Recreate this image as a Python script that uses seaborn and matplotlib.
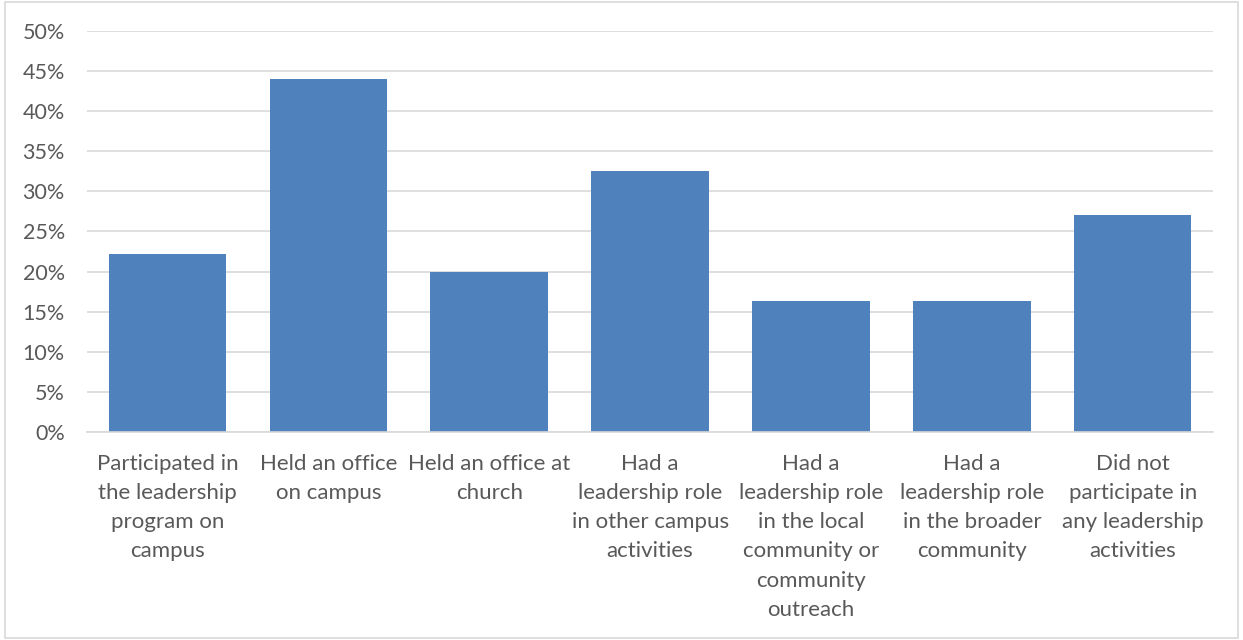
import matplotlib
matplotlib.use("Agg")
import matplotlib.pyplot as plt
import seaborn as sns
import pandas as pd
from matplotlib.patches import Rectangle
from matplotlib.ticker import FuncFormatter, MultipleLocator

categories = [
    "Participated in\nthe leadership\nprogram on\ncampus",
    "Held an office\non campus",
    "Held an office at\nchurch",
    "Had a\nleadership role\nin other campus\nactivities",
    "Had a\nleadership role\nin the local\ncommunity or\ncommunity\noutreach",
    "Had a\nleadership role\nin the broader\ncommunity",
    "Did not\nparticipate in\nany leadership\nactivities",
]
values = [22.2, 44.0, 19.9, 32.5, 16.3, 16.3, 27.05]

df = pd.DataFrame({"category": categories, "value": values})

sns.set_style("white")
plt.rcParams["font.family"] = ["Lato", "DejaVu Sans"]

fig = plt.figure(figsize=(12.43, 6.4), dpi=100)
ax = fig.add_axes([0.070, 0.325, 0.906, 0.6266])

sns.barplot(data=df, x="category", y="value", color="#4F81BD", width=0.73,
            saturation=1, ax=ax, edgecolor="#4F81BD", linewidth=0)

ax.set_ylim(0, 50)
ax.yaxis.set_major_locator(MultipleLocator(5))
ax.yaxis.set_major_formatter(FuncFormatter(lambda v, p: f"{v:.0f}%"))
ax.grid(axis="y", color="#D9D9D9", linewidth=1.2)
ax.set_axisbelow(True)
for s in ["top", "right", "left"]:
    ax.spines[s].set_visible(False)
ax.spines["bottom"].set_color("#D9D9D9")
ax.spines["bottom"].set_linewidth(1.2)
ax.set_xlabel("")
ax.set_ylabel("")
ax.tick_params(axis="y", length=0, labelsize=15.5, labelcolor="#595959", pad=16)
ax.tick_params(axis="x", length=0, labelsize=16, labelcolor="#595959", pad=15.5)
for lbl in ax.get_xticklabels():
    lbl.set_linespacing(1.58)
    lbl.set_va("top")
    lbl.set_ha("center")

fig.patches.append(Rectangle((5 / 1243, 2 / 640), 1233 / 1243, 636 / 640,
                             transform=fig.transFigure, fill=False,
                             edgecolor="#D9D9D9", linewidth=1.2))

fig.savefig("out.png", dpi=100)
